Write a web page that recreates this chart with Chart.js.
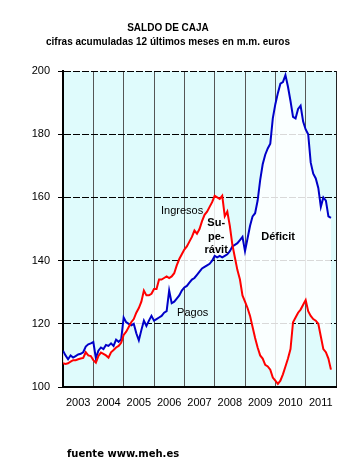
<!DOCTYPE html>
<html>
<head>
<meta charset="utf-8">
<script src="https://cdn.jsdelivr.net/npm/chart.js@4.4.1/dist/chart.umd.min.js"></script>
<style>
  html, body { margin: 0; padding: 0; background: #fff; }
  #wrap { width: 354px; height: 468px; }
</style>
</head>
<body>
<div id="wrap"><canvas id="myChart" width="354" height="468"></canvas></div>
<script>
//Data: monthly values, Jan 2003 .. Nov 2011 (12-month sums, m.m. euros)
const years = ['2003', '2004', '2005', '2006', '2007', '2008', '2009', '2010', '2011'];
const yTicks = [100, 120, 140, 160, 180, 200];

const ingresos = [
   107.5, 107.3, 107.5, 108, 108.5, 108.5, 108.8, 109, 109.2, 111, 110, 109.8,
   108.5, 107.7, 109.8, 110.9, 110.5, 110, 109.3, 111, 111.7, 112.5, 113, 114,
   116.5, 117.5, 119, 120.5, 121.5, 123.5, 125, 127, 130.5, 129, 129, 129.5,
   131, 131, 134, 134, 134.5, 135, 134.5, 135, 136, 138.5, 140.5, 142,
   143.5, 144.5, 146, 147.5, 149.5, 148.5, 150, 152.5, 154.5, 155.5, 157, 158.5,
   160.5, 160, 159.5, 160.5, 154, 155.5, 151, 145, 141, 137, 134, 129,
   127, 125, 122.5, 119, 115.5, 112.5, 110, 109, 107, 106.5, 105.5, 103,
   102, 101, 102, 104, 106.5, 109, 112, 120.5, 122, 123.5, 124.5, 126,
   127.5, 124, 122.5, 121.5, 121, 120, 116, 112, 111, 109, 105.5
];

const pagos = [
   111.5, 110, 108.8, 110, 109.3, 109.8, 110.3, 110.5, 111, 112.8, 113.5, 113.8,
   114.2, 109.1, 111.5, 112.5, 112, 113.3, 113, 113.8, 113, 115, 114.3, 115,
   122, 120.5, 120, 119.5, 120, 117, 114.8, 118, 121, 119.3, 121, 122.5,
   121, 121.5, 122, 122.5, 123.5, 124, 130.5, 126.5, 127, 128, 129, 130.5,
   131.5, 132, 133, 134, 134.5, 135.5, 136.5, 137.5, 138, 138.5, 139, 140,
   141.5, 141, 141.5, 141, 141.5, 142, 143, 144.5, 145, 145.5, 146.5, 147.5,
   143, 147, 151, 154, 155, 159, 165.5, 170.5, 173.5, 175.5, 177, 185,
   189.5, 193, 196, 196.5, 198.7, 195, 190.5, 185.5, 185, 188, 189, 184,
   181.5, 180, 171, 167.5, 166, 163, 157, 160, 159, 154, 153.5
];

//Text labels placed in data units (month index, value)
const notes = [
   { text: 'Ingresos', m: 47.1, v: 155.7, bold: false },
   { text: 'Pagos', m: 51.3, v: 123.4, bold: false },
   { text: 'Su-', m: 60.6, v: 151.9, bold: true },
   { text: 'pe-', m: 60.6, v: 147.5, bold: true },
   { text: 'rávit', m: 60.6, v: 143.4, bold: true },
   { text: 'Déficit', m: 85.1, v: 147.5, bold: true }
];

const toPoints = arr => arr.map((v, i) => ({ x: i, y: v }));

Chart.defaults.font.family = "'Liberation Sans', Arial, sans-serif";
Chart.defaults.color = '#000';

//cyan plot background + texts
const decor = {
   id: 'decor',
   beforeDraw(chart) {
      const { ctx, chartArea: a } = chart;
      ctx.save();
      ctx.fillStyle = '#dffbfc';
      ctx.fillRect(a.left, a.top, a.right - a.left, a.bottom - a.top);
      ctx.restore();
   },
   afterDatasetsDraw(chart) {
      const { ctx, scales: { x, y } } = chart;
      ctx.save();
      ctx.fillStyle = '#000';
      ctx.textAlign = 'center';
      ctx.textBaseline = 'middle';
      notes.forEach(n => {
         ctx.font = (n.bold ? 'bold ' : '') + "11px 'Liberation Sans', Arial, sans-serif";
         ctx.fillText(n.text, x.getPixelForValue(n.m), y.getPixelForValue(n.v));
      });
      ctx.restore();
   },
   afterDraw(chart) {
      const { ctx } = chart;
      ctx.save();
      ctx.fillStyle = '#000';
      ctx.textAlign = 'left';
      ctx.textBaseline = 'middle';
      ctx.font = "bold 10px 'DejaVu Sans', sans-serif";
      ctx.fillText('fuente www.meh.es', 67, 454);
      ctx.restore();
   }
};

const myChart = new Chart(document.getElementById('myChart'), {
   type: 'line',
   data: {
      datasets: [{
         label: 'Ingresos',
         data: toPoints(ingresos),
         borderColor: '#ff0000',
         borderWidth: 2,
         pointRadius: 0,
         fill: false
      }, {
         label: 'Pagos',
         data: toPoints(pagos),
         borderColor: '#0000c8',
         borderWidth: 2,
         pointRadius: 0,
         fill: '-1',
         backgroundColor: 'rgba(255,255,255,0.85)'
      }]
   },
   options: {
      responsive: false,
      animation: false,
      events: [],
      layout: { padding: { top: 0, right: 18, bottom: 0, left: 0 }, autoPadding: false },
      scales: {
         x: {
            type: 'linear',
            min: 0,
            max: 108,
            afterFit: s => { s.height = 81; },
            afterBuildTicks: s => { s.ticks = []; for (let v = 0; v <= 108; v += 6) s.ticks.push({ value: v }); },
            ticks: {
               autoSkip: false,
               maxRotation: 0,
               padding: 9,
               font: { size: 11 },
               callback: v => (v % 12 === 6 ? years[(v - 6) / 12] : '')
            },
            grid: {
               drawTicks: false,
               lineWidth: 1,
               color: c => (c.tick && c.tick.value % 12 === 0 ? (c.tick.value === 108 ? '#222' : '#555') : 'transparent')
            },
            border: { display: true, color: '#000', width: 2 }
         },
         y: {
            min: 100,
            max: 200,
            afterFit: s => { s.width = 63; },
            afterBuildTicks: s => { s.ticks = yTicks.map(v => ({ value: v })); },
            ticks: { padding: 8, font: { size: 11 } },
            grid: { color: '#000', lineWidth: 1, tickLength: 5, tickColor: '#000', tickBorderDash: [] },
            border: { display: true, color: '#000', width: 2, dash: [7, 2] }
         }
      },
      plugins: {
         legend: { display: false },
         tooltip: { enabled: false },
         title: {
            display: true,
            text: ['SALDO DE CAJA', 'cifras acumuladas 12 últimos meses en m.m. euros'],
            font: { size: 10, weight: 'bold', lineHeight: 1.4 },
            color: '#000',
            padding: { top: 21, bottom: 22 }
         }
      }
   },
   plugins: [decor]
});
</script>
</body>
</html>
